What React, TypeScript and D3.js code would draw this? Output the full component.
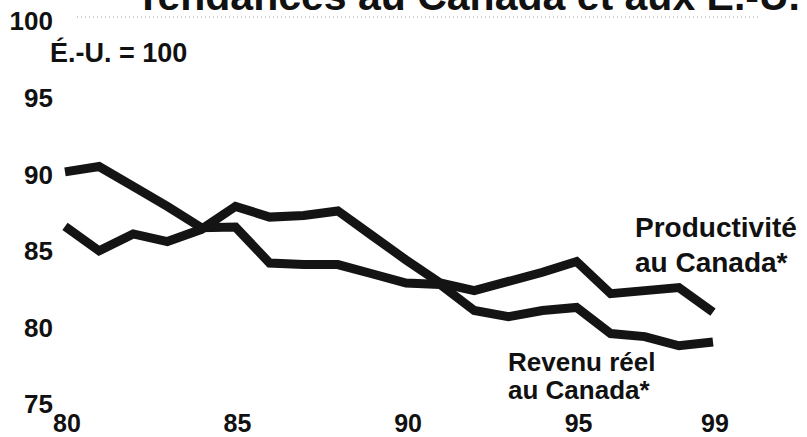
import React from "react";
import * as d3 from "d3";

const years = [80, 81, 82, 83, 84, 85, 86, 87, 88, 89, 90, 91, 92, 93, 94, 95, 96, 97, 98, 99];
const productivite = [86.6, 85.0, 86.1, 85.6, 86.4, 87.9, 87.2, 87.3, 87.6, 86.0, 84.4, 82.9, 82.4, 83.0, 83.6, 84.3, 82.2, 82.4, 82.6, 81.0];
const revenu = [90.15, 90.5, 89.2, 87.9, 86.5, 86.55, 84.2, 84.1, 84.1, 83.5, 82.9, 82.8, 81.1, 80.7, 81.1, 81.3, 79.6, 79.4, 78.8, 79.05];
const yTicks = [100, 95, 90, 85, 80, 75];
const xTicks = [80, 85, 90, 95, 99];
const title = "Tendances au Canada et aux É.-U.";
const unitLabel = "É.-U. = 100";
const prodLabel = ["Productivité", "au Canada*"];
const revLabel = ["Revenu réel", "au Canada*"];

const W = 807;
const H = 437;
const FONT = "'Liberation Sans', Arial, Helvetica, sans-serif";

export default function App() {
  const x = d3.scaleLinear().domain([80, 99]).range([65, 713]);
  const y = d3.scaleLinear().domain([75, 100]).range([404, 21]);
  const line = d3
    .line<number>()
    .x((_, i) => x(years[i]))
    .y((d) => y(d));

  return (
    <svg
      width={W}
      height={H}
      viewBox={`0 0 ${W} ${H}`}
      style={{ position: "absolute", left: 0, top: 0, background: "#fff" }}
      fontFamily={FONT}
    >
      <rect x={0} y={0} width={W} height={H} fill="#fff" />
      <text x={800} y={10} textAnchor="end" fontSize={41} fontWeight="bold" fill="#111">
        {title}
      </text>
      <line
        x1={77}
        x2={760}
        y1={y(100) - 4}
        y2={y(100) - 4}
        stroke="#9a9a9a"
        strokeWidth={1}
        strokeDasharray="1,3"
      />
      {yTicks.map((t) => (
        <text
          key={t}
          x={53}
          y={y(t)}
          dy="0.36em"
          textAnchor="end"
          fontSize={26}
          fontWeight="bold"
          fill="#111"
        >
          {t}
        </text>
      ))}
      <text x={50} y={62} fontSize={27} fontWeight="bold" fill="#111">
        {unitLabel}
      </text>
      {xTicks.map((t) => (
        <text
          key={t}
          x={x(t) + 2}
          y={431.5}
          textAnchor="middle"
          fontSize={25}
          fontWeight="bold"
          fill="#111"
        >
          {t}
        </text>
      ))}
      <path d={line(revenu) || ""} fill="none" stroke="#141414" strokeWidth={9} strokeLinejoin="miter" />
      <path d={line(productivite) || ""} fill="none" stroke="#141414" strokeWidth={9} strokeLinejoin="miter" />
      {prodLabel.map((s, i) => (
        <text key={s} x={635} y={237 + i * 35} fontSize={28} fontWeight="bold" fill="#111">
          {s}
        </text>
      ))}
      {revLabel.map((s, i) => (
        <text key={s + i} x={508} y={371 + i * 28} fontSize={26} fontWeight="bold" fill="#111">
          {s}
        </text>
      ))}
    </svg>
  );
}
